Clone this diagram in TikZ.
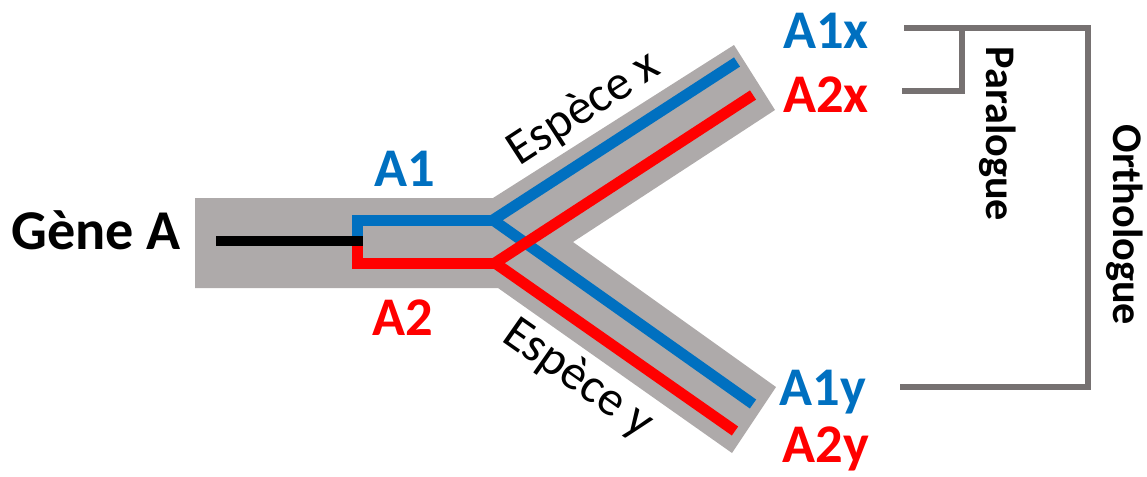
\documentclass[tikz,border=0pt]{standalone}
\usepackage{fontspec}
\setmainfont{Carlito}
\definecolor{bandgray}{RGB}{174,170,170}
\definecolor{bracketgray}{RGB}{118,113,113}
\definecolor{geneblue}{RGB}{0,112,192}
\definecolor{genered}{RGB}{255,0,0}
\begin{document}
\begin{tikzpicture}[x=0.02cm, y=-0.02cm,
  label/.style={font=\fontsize{31}{36}\selectfont\bfseries, inner sep=0pt, anchor=base},
  species/.style={font=\fontsize{28}{32}\selectfont, inner sep=0pt},
  kind/.style={font=\fontsize{24}{28}\selectfont\bfseries, inner sep=0pt, rotate=-90},
  branch/.style={line width=0.22cm, line cap=butt, miter limit=10},
  bracket/.style={bracketgray, line width=0.12cm}]

  \useasboundingbox (0,0) rectangle (1147,477);

  % Gray band
  \fill[bandgray] (195,198) -- (493,198) -- (734,45) -- (775,110) -- (573,242)
    -- (776,387) -- (732,453) -- (498,288) -- (195,288) -- cycle;

  % Junctions
  \coordinate (J1) at (493,220);
  \coordinate (J2) at (495,263);

  % Gene lines
  \draw[branch, geneblue] (357,243) -- (357,220) -- (J1);
  \draw[branch, geneblue] (J1) -- (737,62);
  \draw[branch, geneblue] (J1) -- (753,404);
  \draw[branch, genered] (357,239) -- (357,263) -- (J2);
  \draw[branch, genered] (J2) -- (753,95);
  \draw[branch, genered] (J2) -- (735,431);
  \draw[line width=0.2cm, black] (216,241) -- (363,241);

  % Labels
  \node[label, font=\fontsize{32}{36}\selectfont\bfseries] (gene) at (96,249) {Gène A};
  \node[label, geneblue] (A1) at (405,186) {A1};
  \node[label, genered] (A2) at (403,335) {A2};
  \node[label, geneblue] (A1x) at (826,48) {A1x};
  \node[label, genered] (A2x) at (826,112) {A2x};
  \node[label, geneblue] (A1y) at (823,405) {A1y};
  \node[label, genered] (A2y) at (826,462) {A2y};
  \node[species, rotate=33] (spx) at (584,109) {Espèce x};
  \node[species, rotate=-35] (spy) at (578,379) {Espèce y};

  % Brackets
  \coordinate (P1) at (904,28);
  \coordinate (P2) at (902,91);
  \coordinate (O2) at (900,387);
  \draw[bracket] (P1) -- (1088,28) -- (1088,387) -- (O2);
  \draw[bracket] (962,28) -- (962,91) -- (P2);
  \node[kind] (para) at (998,134) {Paralogue};
  \node[kind] (ortho) at (1125,225) {Orthologue};

\end{tikzpicture}
\end{document}
